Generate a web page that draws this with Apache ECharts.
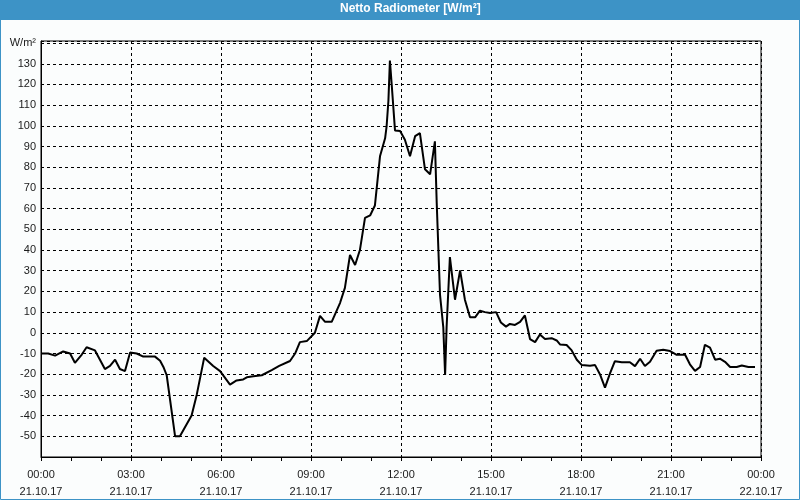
<!DOCTYPE html>
<html>
<head>
<meta charset="utf-8">
<script src="https://cdn.jsdelivr.net/npm/echarts@6/dist/echarts.min.js"></script>
<style>
html,body{margin:0;padding:0;background:#fbfdfd;}
#chart{width:800px;height:500px;}
</style>
</head>
<body>
<div id="chart"></div>
<script>
// Time in hours since 21.10.17 00:00
const hours = [0,0.24,0.47,0.74,0.97,1.13,1.36,1.52,1.8,2.13,2.3,2.47,2.63,2.8,2.97,3.19,3.41,3.8,3.97,4.08,4.19,4.47,4.63,5.02,5.19,5.44,5.74,5.97,6.3,6.52,6.74,6.86,7.08,7.36,7.69,7.94,8.3,8.47,8.63,8.86,9.13,9.3,9.47,9.69,9.97,10.13,10.3,10.47,10.63,10.8,10.97,11.13,11.3,11.47,11.52,11.58,11.63,11.69,11.8,11.97,12.13,12.3,12.47,12.63,12.8,12.97,13.13,13.19,13.3,13.41,13.47,13.52,13.63,13.8,13.97,14.13,14.3,14.47,14.63,14.8,14.97,15.17,15.33,15.5,15.63,15.8,15.97,16.13,16.3,16.47,16.63,16.8,17.02,17.19,17.3,17.52,17.69,17.86,18.02,18.3,18.47,18.63,18.8,18.97,19.13,19.36,19.63,19.8,19.97,20.13,20.3,20.52,20.74,20.97,21.19,21.47,21.63,21.8,21.97,22.13,22.3,22.47,22.63,22.8,22.97,23.19,23.36,23.58,23.8];
const values = [-10,-10,-11,-9,-10,-14.5,-10.5,-7,-8.5,-17.5,-16,-13,-17.5,-18.5,-9.5,-10,-11.5,-11.5,-13.5,-16.5,-20.5,-50,-50,-40,-30,-12,-16,-18.5,-25,-23,-22.5,-21.5,-21,-20.5,-18,-16,-13.6,-10,-4.5,-4,0,8.2,5.3,5.3,14.5,21.7,37.6,32.8,40,55.5,56.7,61.5,85.3,94,99.7,112,131.5,120,97.8,97.5,93.3,85.3,95,96.5,79,76.6,92.5,63,18.5,2.6,-20.4,2.6,36.6,16,30.2,16,7.5,7.5,10.7,10,9.6,10,5,3,4.3,3.8,5.3,8.4,-3,-4.5,-0.8,-3,-2.6,-3.7,-5.6,-5.9,-8.5,-13,-15.5,-15.9,-15.6,-20,-26.5,-19.5,-13.7,-14.2,-14.2,-16.1,-12.5,-16,-14,-8.7,-8.2,-8.8,-10.6,-10.6,-15.2,-18.4,-16.5,-5.8,-7.2,-13,-12.5,-14,-16.5,-16.5,-15.8,-16.5,-16.5];
const xTickLabels = ['00:00\n21.10.17','03:00\n21.10.17','06:00\n21.10.17','09:00\n21.10.17','12:00\n21.10.17','15:00\n21.10.17','18:00\n21.10.17','21:00\n21.10.17','00:00\n22.10.17'];
const yUnitLabel = 'W/m²';
const titleText = 'Netto Radiometer [W/m²]';

const chart = echarts.init(document.getElementById('chart'), null, {renderer:'canvas'});
const font = 'Liberation Sans';
chart.setOption({
  backgroundColor: '#fbfdfd',
  animation: false,
  graphic: [
    {type:'rect', z:-1, shape:{x:0,y:0,width:800,height:20}, style:{fill:'#3d93c6'}},
    {type:'rect', shape:{x:0.5,y:0.5,width:799,height:499}, style:{fill:null, stroke:'#3d93c6', lineWidth:1}},
    {type:'text', left:340, top:3, style:{text:titleText, fill:'#ffffff', font:'bold 12px "Liberation Sans"'}}
  ],
  grid: {left:41, right:39, top:41, bottom:39, show:true, borderColor:'#000', borderWidth:1, backgroundColor:'#fbfdfd'},
  xAxis: {
    type:'value', min:0, max:24, interval:3,
    axisLine:{show:true, onZero:false, lineStyle:{color:'#000', width:1}},
    axisTick:{show:true, length:4, lineStyle:{color:'#000'}},
    minorTick:{show:true, splitNumber:3, length:4, lineStyle:{color:'#000'}},
    splitLine:{show:true, lineStyle:{color:'#000', type:[3,3], width:1}},
    axisLabel:{
      color:'#1a1a1a', fontFamily:font, fontSize:11, lineHeight:17, margin:9,
      formatter: v => xTickLabels[Math.round(v/3)] || ''
    }
  },
  yAxis: {
    type:'value', min:-60, max:141, interval:10,
    axisLine:{show:true, onZero:false, lineStyle:{color:'#000', width:1}},
    axisTick:{show:false},
    splitLine:{show:true, lineStyle:{color:'#000', type:[3,3], width:1}},
    axisLabel:{
      color:'#1a1a1a', fontFamily:font, fontSize:11, margin:5,
      formatter: v => {
        if (v === 140) return yUnitLabel;
        if (v === -60 || v % 10 !== 0) return '';
        return String(v);
      }
    }
  },
  series: [{
    type:'line',
    data: hours.map((h,i) => [h, values[i]]),
    showSymbol:false,
    symbol:'none',
    lineStyle:{color:'#000', width:2},
    clip:true
  }]
});
</script>
</body>
</html>
